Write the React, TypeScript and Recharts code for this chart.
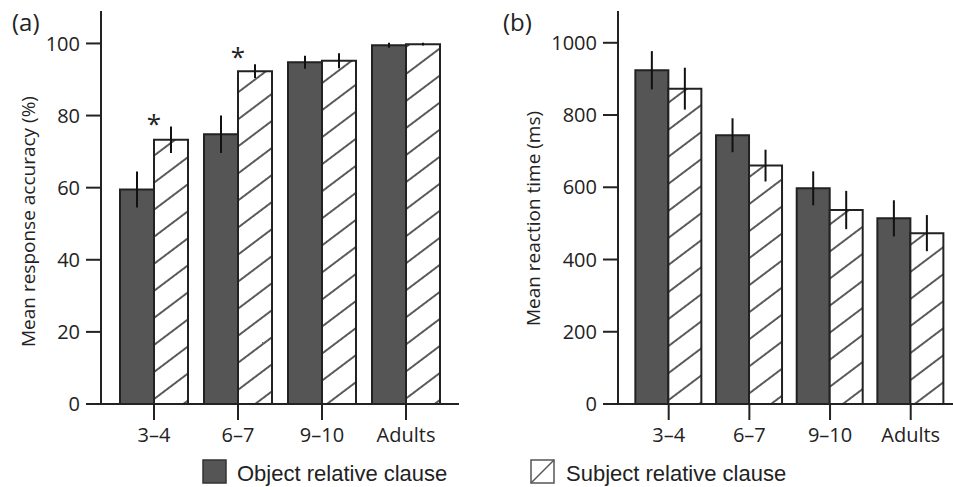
import React from 'react';
import { BarChart, Bar, XAxis, YAxis, ErrorBar, ReferenceDot, Label } from 'recharts';

// ---------- data ----------
const categories = ['3–4', '6–7', '9–10', 'Adults'];
const seriesNames = ['Object relative clause', 'Subject relative clause'];

const accuracyObject = [59.5, 74.8, 94.8, 99.5];
const accuracyObjectErr = [5.0, 5.2, 1.8, 0.7];
const accuracySubject = [73.3, 92.3, 95.2, 99.8];
const accuracySubjectErr = [3.7, 1.9, 2.1, 0.4];

const rtObject = [924, 744, 597, 514];
const rtObjectErr = [53, 47, 47, 50];
const rtSubject = [873, 660, 537, 473];
const rtSubjectErr = [58, 44, 53, 50];

const sigCategories = ['3–4', '6–7'];
const sigLevels = [79, 97.5];

const accuracyTicks = [0, 20, 40, 60, 80, 100];
const rtTicks = [0, 200, 400, 600, 800, 1000];

const accData = categories.map((c, i) => ({
  cat: c,
  obj: accuracyObject[i],
  objErr: accuracyObjectErr[i],
  subj: accuracySubject[i],
  subjErr: accuracySubjectErr[i],
}));
const rtData = categories.map((c, i) => ({
  cat: c,
  obj: rtObject[i],
  objErr: rtObjectErr[i],
  subj: rtSubject[i],
  subjErr: rtSubjectErr[i],
}));

// ---------- styles ----------
const INK = '#222';
const DARK = '#555555';
const FONT = '"Open Sans", sans-serif';
const tickStyle = { fill: INK, fontSize: 20, fontFamily: FONT };

const makeTitle = (text: string, dx: number, dy: number) => (props: any) => {
  const vb = props.viewBox || { x: 0, y: 0, width: 0, height: 0 };
  const cx = vb.x + dx;
  const cy = vb.y + vb.height / 2 + dy;
  return (
    <text
      x={cx}
      y={cy}
      transform={`rotate(-90 ${cx} ${cy})`}
      textAnchor="middle"
      dominantBaseline="central"
      fontSize={19}
      fontFamily={FONT}
      fill={INK}
    >
      {text}
    </text>
  );
};

const Star = (props: any) => (
  <text
    x={props.cx}
    y={props.cy}
    dy={14}
    textAnchor="middle"
    fontSize={26}
    fontFamily={FONT}
    fill={INK}
  >
    *
  </text>
);

type PanelProps = {
  data: any[];
  ticks: number[];
  domain: [number, number];
  yWidth: number;
  width: number;
  rightMargin: number;
  pad: number;
  barSize: number;
  title: string;
  titleDx: number;
  titleDy: number;
  stars?: boolean;
};

const Panel = (p: PanelProps) => (
  <BarChart
    width={p.width}
    height={487}
    data={p.data}
    barGap={0}
    margin={{ top: 11, right: p.rightMargin, bottom: 0, left: 0 }}
  >
    <XAxis
      dataKey="cat"
      interval={0}
      height={83}
      padding={{ left: p.pad, right: p.pad }}
      tickSize={16}
      tickMargin={8}
      tick={tickStyle}
      axisLine={{ stroke: INK, strokeWidth: 2 }}
      tickLine={{ stroke: INK, strokeWidth: 2 }}
    />
    <XAxis
      xAxisId="top"
      orientation="top"
      dataKey="cat"
      height={0}
      tick={false}
      tickLine={false}
      axisLine={{ stroke: INK, strokeWidth: 2 }}
    />
    <YAxis
      type="number"
      width={p.yWidth}
      domain={p.domain}
      ticks={p.ticks}
      allowDataOverflow
      interval={0}
      tickSize={15}
      tickMargin={6}
      tick={tickStyle}
      axisLine={{ stroke: INK, strokeWidth: 2 }}
      tickLine={{ stroke: INK, strokeWidth: 2 }}
      label={{ content: makeTitle(p.title, p.titleDx, p.titleDy) }}
    />
    <YAxis
      yAxisId="right"
      orientation="right"
      type="number"
      width={0}
      domain={p.domain}
      allowDataOverflow
      tick={false}
      tickLine={false}
      axisLine={{ stroke: INK, strokeWidth: 2 }}
    />
    <Bar dataKey="obj" name={seriesNames[0]} fill={DARK} stroke={INK} strokeWidth={2} barSize={p.barSize} isAnimationActive={false}>
      <ErrorBar dataKey="objErr" width={0} stroke="#111" strokeWidth={2} direction="y" isAnimationActive={false} />
    </Bar>
    <Bar dataKey="subj" name={seriesNames[1]} fill="url(#hatchPattern)" stroke={INK} strokeWidth={2} barSize={p.barSize} isAnimationActive={false}>
      <ErrorBar dataKey="subjErr" width={0} stroke="#111" strokeWidth={2} direction="y" isAnimationActive={false} />
    </Bar>
    {p.stars &&
      sigCategories.map((c, i) => (
        <ReferenceDot key={c} x={c} y={sigLevels[i]} r={0} shape={Star} ifOverflow="visible" />
      ))}
  </BarChart>
);

export default function App() {
  return (
    <div
      style={{
        position: 'absolute',
        left: 0,
        top: 0,
        width: 953,
        height: 487,
        overflow: 'hidden',
        background: '#fff',
      }}
    >
      <svg width={0} height={0} style={{ position: 'absolute' }}>
        <defs>
          <pattern
            id="hatchPattern"
            patternUnits="userSpaceOnUse"
            width={10}
            height={21.6}
            patternTransform="rotate(-37)"
          >
            <rect x={0} y={0} width={10} height={21.6} fill="#fff" />
            <line x1={0} y1={1} x2={10} y2={1} stroke="#333" strokeWidth={1.6} />
          </pattern>
        </defs>
      </svg>
      <div style={{ position: 'absolute', left: 0, top: 0 }}>
        <Panel
          data={accData}
          ticks={accuracyTicks}
          domain={[0, 109]}
          yWidth={101}
          width={480}
          rightMargin={21}
          pad={11}
          barSize={34}
          title="Mean response accuracy (%)"
          titleDx={28}
          titleDy={14}
          stars
        />
      </div>
      <div style={{ position: 'absolute', left: 480, top: 0 }}>
        <Panel
          data={rtData}
          ticks={rtTicks}
          domain={[0, 1088]}
          yWidth={138}
          width={500}
          rightMargin={18.6}
          pad={10.35}
          barSize={33}
          title="Mean reaction time (ms)"
          titleDx={53}
          titleDy={11}
        />
      </div>
      <svg
        width={953}
        height={487}
        style={{ position: 'absolute', left: 0, top: 0, pointerEvents: 'none' }}
      >
        <text x={12} y={31} fontSize={24} fontFamily={FONT} fill={INK}>(a)</text>
        <text x={503} y={31} fontSize={24} fontFamily={FONT} fill={INK}>(b)</text>
        <rect x={203} y={460} width={23} height={23} fill={DARK} stroke="#333" strokeWidth={1.5} />
        <text x={237} y={481} fontSize={22} fontFamily='"Liberation Sans", Arial, sans-serif' fill={INK}>
          {seriesNames[0]}
        </text>
        <rect x={531} y={460} width={23} height={23} fill="#fff" stroke="#555" strokeWidth={1.5} />
        <line x1={531} y1={483} x2={554} y2={460} stroke="#555" strokeWidth={1.5} />
        <text x={566} y={481} fontSize={22} fontFamily='"Liberation Sans", Arial, sans-serif' fill={INK}>
          {seriesNames[1]}
        </text>
      </svg>
    </div>
  );
}
